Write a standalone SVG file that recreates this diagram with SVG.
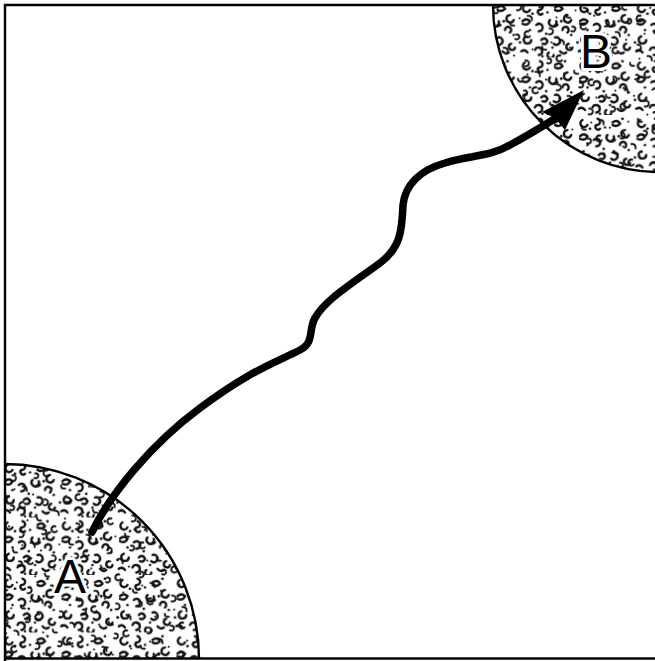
<svg xmlns="http://www.w3.org/2000/svg" width="655" height="661" viewBox="0 0 655 661">
<style>
.mk{fill:none;stroke:#111;stroke-width:1.9;stroke-linecap:round}
.dt{fill:#111}
.edge{fill:none;stroke:#000;stroke-width:2.4}
.lbl{font-family:"Liberation Sans",Arial,sans-serif;font-size:48px;fill:#000;stroke:#fff;stroke-width:6;paint-order:stroke;stroke-linejoin:round;text-anchor:middle}
</style>
<defs>
<pattern id="stip1" width="46" height="46" patternUnits="userSpaceOnUse" patternTransform="scale(1.25)">
<path class="mk" d="M6,4 a3,3 0 1,0 4,4"/>
<path class="mk" d="M18,3 a2.5,2.5 0 1,1 -1,5 a2,2 0 0,0 3,3"/>
<path class="mk" d="M30,6 q4,-3 6,1 q-3,3 -6,1"/>
<path class="mk" d="M40,12 a3,3 0 1,0 3,4"/>
<path class="mk" d="M4,17 q3,-3 6,0 q-2,4 -6,2"/>
<path class="mk" d="M15,20 a3,3 0 1,1 2,5"/>
<path class="mk" d="M26,16 a3,3 0 1,0 5,1 M27,21 q3,1 5,-1"/>
<path class="mk" d="M36,24 a2.5,2.5 0 1,1 4,2"/>
<path class="mk" d="M7,29 a3,3 0 1,0 4,3"/>
<path class="mk" d="M19,32 q3,-3 5,1 q-1,3 -4,2"/>
<path class="mk" d="M30,30 a3,3 0 1,1 -1,5"/>
<path class="mk" d="M41,35 a2.5,2.5 0 1,0 3,3"/>
<path class="mk" d="M3,41 q3,-2 5,1"/>
<path class="mk" d="M14,40 a3,3 0 1,1 3,4"/>
<path class="mk" d="M25,42 a2.5,2.5 0 1,0 4,2"/>
<path class="mk" d="M34,41 q2,3 5,1"/>
<circle class="dt" cx="12" cy="11" r="1.1"/>
<circle class="dt" cx="24" cy="10" r="1"/>
<circle class="dt" cx="35" cy="17" r="1.1"/>
<circle class="dt" cx="10" cy="24" r="1"/>
<circle class="dt" cx="23" cy="27" r="1.1"/>
<circle class="dt" cx="43" cy="28" r="1"/>
<circle class="dt" cx="2" cy="34" r="1.1"/>
<circle class="dt" cx="28" cy="38" r="1"/>
<circle class="dt" cx="38" cy="3" r="1.1"/>
<circle class="dt" cx="20" cy="45" r="1"/>
</pattern>
<pattern id="stip2" width="40" height="40" patternUnits="userSpaceOnUse" patternTransform="rotate(37) translate(11 7)">
<path class="mk" d="M5,5 a3,3 0 1,1 3,5"/>
<path class="mk" d="M20,8 q3,-3 6,1"/>
<path class="mk" d="M30,20 a3,3 0 1,0 4,3"/>
<path class="mk" d="M10,24 q2,3 5,0"/>
<path class="mk" d="M22,30 a2.5,2.5 0 1,1 2,4"/>
<circle class="dt" cx="15" cy="15" r="1"/>
<circle class="dt" cx="33" cy="8" r="1.1"/>
<circle class="dt" cx="4" cy="32" r="1"/>
</pattern>
<clipPath id="frame"><rect x="4" y="4" width="651" height="654"/></clipPath>
</defs>
<rect width="655" height="661" fill="#fff"/>
<g id="regionA" clip-path="url(#frame)">
<circle cx="4" cy="659" r="195" fill="url(#stip1)"/>
<circle cx="4" cy="659" r="195" fill="url(#stip2)"/>
<circle cx="4" cy="659" r="195" class="edge"/>
<text class="lbl" x="70" y="593">A</text>
</g>
<g id="regionB" clip-path="url(#frame)">
<circle cx="660" cy="5" r="167" fill="url(#stip1)"/>
<circle cx="660" cy="5" r="167" fill="url(#stip2)"/>
<circle cx="660" cy="5" r="167" class="edge"/>
<text class="lbl" x="596" y="68">B</text>
</g>
<g id="frameLines" fill="none" stroke="#000" stroke-width="2.4">
<path d="M5,661 V5 H655"/>
<path d="M4,658.5 H655"/>
</g>
<g id="connectors">
<path d="M92,532 C110,495 150,445 200,408 S270,365 300,350 C315,342 308,330 315,318 C325,300 350,285 380,263 C400,248 402,232 403,205 C405,185 420,170 445,163 C470,155 490,157 510,145 C525,137 540,128 556,118" fill="none" stroke="#000" stroke-width="7.5" stroke-linecap="round"/>
<polygon points="584,90 542,112 555,118 565,130" fill="#000"/>
</g>
</svg>
